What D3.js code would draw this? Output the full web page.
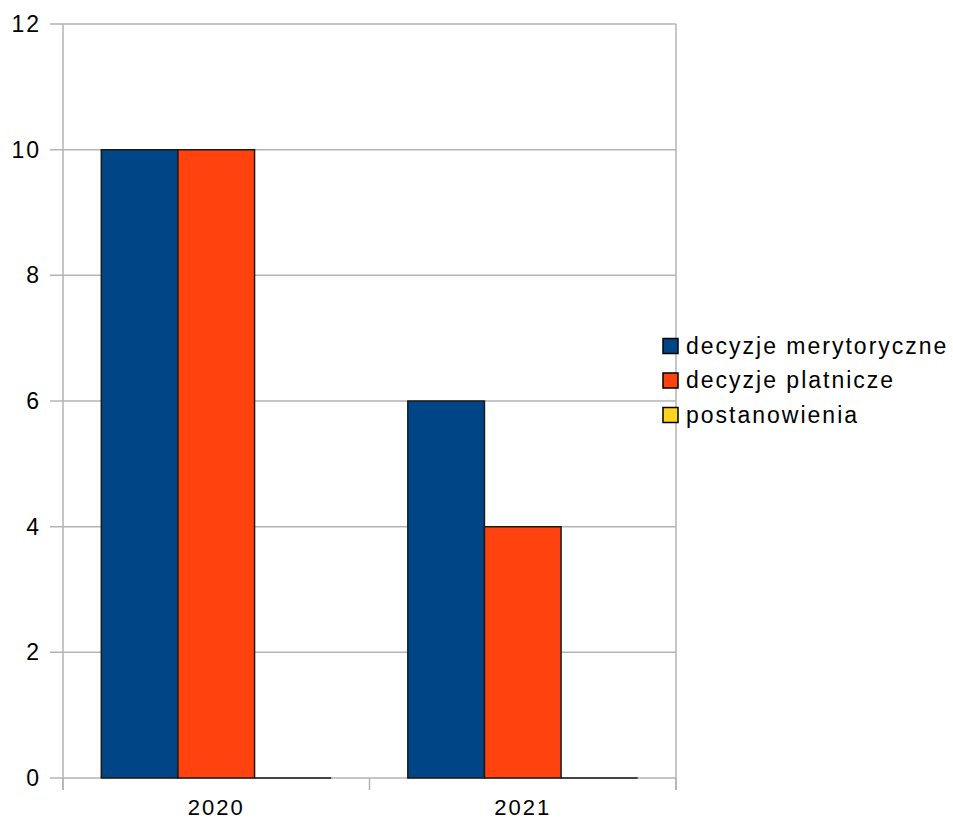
<!DOCTYPE html>
<html><head><meta charset="utf-8">
<script src="https://cdn.jsdelivr.net/npm/d3@7"></script>
<style>body{margin:0;background:#fff}svg{display:block}text{font-family:"Liberation Sans",Arial,sans-serif;fill:#000;letter-spacing:2px}</style>
</head><body><svg id="c" width="953" height="821"></svg>
<script>
const categories = ["2020", "2021"];
const seriesNames = ["decyzje merytoryczne", "decyzje platnicze", "postanowienia"];
const merytoryczne = [10, 6];
const platnicze = [10, 4];
const postanowienia = [0, 0];
const yTicks = [0, 2, 4, 6, 8, 10, 12];
const colors = ["#004586", "#ff420e", "#ffd320"];

const values = [merytoryczne, platnicze, postanowienia];
const svg = d3.select("#c");
const L = 63, R = 676, T = 24, B = 778;
const x = d3.scaleBand().domain(categories).range([L, R]).paddingInner(0.25).paddingOuter(0.125);
const bandFull = d3.scaleBand().domain(categories).range([L, R]);
const xs = d3.scaleBand().domain(seriesNames).range([0, x.bandwidth()]);
const y = d3.scaleLinear().domain([0, 12]).range([B, T]);
const grid = "#b3b3b3";

svg.append("g").selectAll("line").data(yTicks).join("line")
  .attr("x1", 50).attr("x2", R).attr("y1", d => y(d)).attr("y2", d => y(d))
  .attr("stroke", grid).attr("stroke-width", 1.5);
svg.append("line").attr("x1", L).attr("x2", L).attr("y1", T).attr("y2", B + 12).attr("stroke", grid).attr("stroke-width", 1.5);
svg.append("line").attr("x1", R).attr("x2", R).attr("y1", T).attr("y2", B + 12).attr("stroke", grid).attr("stroke-width", 1.5);
const bounds = categories.map(c => bandFull(c)).concat([R]);
svg.append("g").selectAll("line").data(bounds).join("line")
  .attr("x1", d => d).attr("x2", d => d).attr("y1", B).attr("y2", B + 12)
  .attr("stroke", grid).attr("stroke-width", 1.5);

svg.append("g").selectAll("text").data(yTicks).join("text")
  .attr("x", 41).attr("y", d => y(d) + 8).attr("text-anchor", "end")
  .attr("font-size", 23).text(d => d);

categories.forEach((c, ci) => {
  seriesNames.forEach((s, si) => {
    const x0 = x(c) + xs(s), x1 = x0 + xs.bandwidth();
    const y0 = y(0), y1 = y(values[si][ci]);
    svg.append("path")
      .attr("d", `M${x0},${y0}V${y1}H${x1}V${y0}Z`)
      .attr("fill", colors[si]).attr("stroke", "#1a1a1a").attr("stroke-width", 1.5);
  });
});

svg.append("g").selectAll("text").data(categories).join("text")
  .attr("x", d => bandFull(d) + bandFull.bandwidth() / 2).attr("y", 815)
  .attr("text-anchor", "middle").attr("font-size", 22).text(d => d);

const lg = svg.append("g");
seriesNames.forEach((s, i) => {
  const cy = 346 + i * 34.5;
  lg.append("rect").attr("x", 663).attr("y", cy - 7.5).attr("width", 15).attr("height", 15)
    .attr("fill", colors[i]).attr("stroke", "#000").attr("stroke-width", 1.5);
  lg.append("text").attr("x", 686).attr("y", cy + 7.5).attr("font-size", 23).text(s);
});
</script></body></html>
